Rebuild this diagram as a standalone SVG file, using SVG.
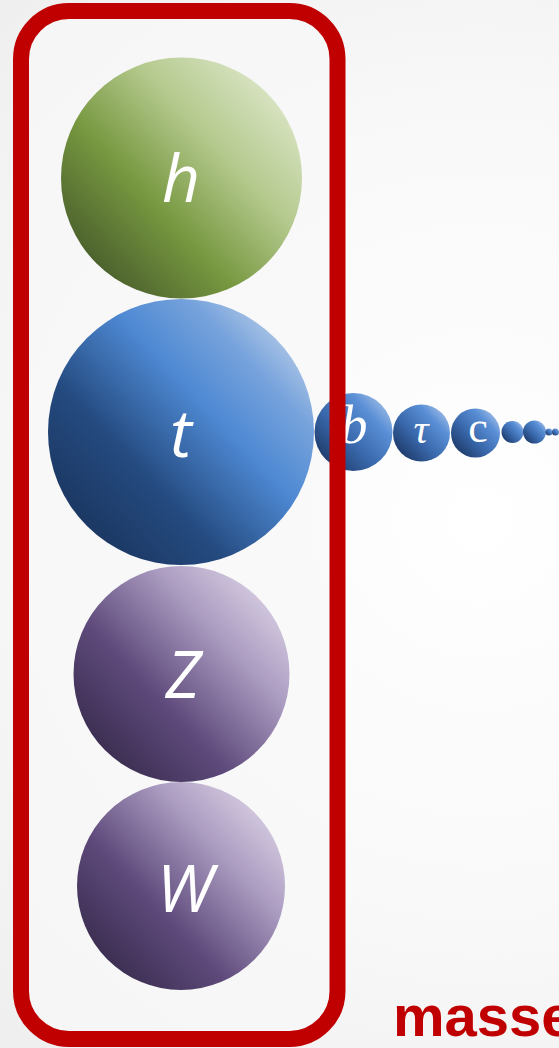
<svg xmlns="http://www.w3.org/2000/svg" width="559" height="1048" viewBox="0 0 559 1048">
  <defs>
    <radialGradient id="bg" cx="480" cy="520" r="700" gradientUnits="userSpaceOnUse">
      <stop offset="0" stop-color="#ffffff"/>
      <stop offset="0.6" stop-color="#f8f8f8"/>
      <stop offset="1" stop-color="#efefef"/>
    </radialGradient>
    <linearGradient id="gGreen" x1="0.1" y1="0.9" x2="0.95" y2="0.1">
      <stop offset="0" stop-color="#45592a"/>
      <stop offset="0.35" stop-color="#779840"/>
      <stop offset="0.65" stop-color="#b4c98d"/>
      <stop offset="1" stop-color="#e1eacf"/>
    </linearGradient>
    <linearGradient id="gBlue" x1="0.1" y1="0.9" x2="0.95" y2="0.1">
      <stop offset="0" stop-color="#1a345d"/>
      <stop offset="0.3" stop-color="#244a7f"/>
      <stop offset="0.6" stop-color="#4e89d3"/>
      <stop offset="0.8" stop-color="#77a3dc"/>
      <stop offset="1" stop-color="#c3d4eb"/>
    </linearGradient>
    <linearGradient id="gBlueS" x1="0.1" y1="0.9" x2="0.95" y2="0.1">
      <stop offset="0" stop-color="#1c3866"/>
      <stop offset="0.4" stop-color="#3a69ad"/>
      <stop offset="0.75" stop-color="#5a8fd6"/>
      <stop offset="1" stop-color="#a8c3e8"/>
    </linearGradient>
    <linearGradient id="gPurple" x1="0.1" y1="0.9" x2="0.95" y2="0.1">
      <stop offset="0" stop-color="#372a4c"/>
      <stop offset="0.35" stop-color="#5e4a7b"/>
      <stop offset="0.7" stop-color="#ab9cc1"/>
      <stop offset="1" stop-color="#ded5e7"/>
    </linearGradient>
    <style>
      .big { font-family: "Open Sans", "Liberation Sans", sans-serif; font-style: italic; font-size: 66px; fill: #ffffff; text-anchor: middle; }
      .small { font-family: "Liberation Serif", "DejaVu Serif", serif; fill: #ffffff; text-anchor: middle; }
      .box { fill: none; stroke: #c00000; stroke-width: 16; }
    </style>
  </defs>

  <rect x="0" y="0" width="559" height="1048" fill="url(#bg)"/>
  <rect x="21" y="11" width="316.5" height="1028" rx="48" fill="#f8f8f8" opacity="0.7"/>

  <g id="node-h">
    <circle cx="181.5" cy="178" r="120.5" fill="url(#gGreen)"/>
    <text class="big" x="181" y="202">h</text>
  </g>
  <g id="node-t">
    <circle cx="181" cy="432" r="133" fill="url(#gBlue)"/>
    <text class="big" x="181" y="457">t</text>
  </g>
  <g id="node-Z">
    <circle cx="181.5" cy="674" r="108" fill="url(#gPurple)"/>
    <text class="big" x="183" y="698">Z</text>
  </g>
  <g id="node-W">
    <circle cx="181" cy="886" r="104" fill="url(#gPurple)"/>
    <text class="big" x="185" y="912">W</text>
  </g>

  <g id="node-b">
    <circle cx="353.5" cy="432" r="39" fill="url(#gBlueS)"/>
    <text class="small" x="354" y="443" font-size="54" font-style="italic">b</text>
  </g>
  <g id="node-tau">
    <circle cx="421.5" cy="433" r="28.5" fill="url(#gBlueS)"/>
    <text class="small" x="421" y="443" font-size="42" font-style="italic">τ</text>
  </g>
  <g id="node-c">
    <circle cx="475.5" cy="433" r="24.5" fill="url(#gBlueS)"/>
    <text class="small" x="478" y="442" font-size="44">c</text>
  </g>
  <g id="node-s1">
    <circle cx="512.5" cy="432" r="11" fill="url(#gBlueS)"/>
  </g>
  <g id="node-s2">
    <circle cx="534.5" cy="432" r="11.5" fill="url(#gBlueS)"/>
  </g>
  <g id="node-s3">
    <circle cx="549" cy="432" r="3.5" fill="url(#gBlueS)"/>
  </g>
  <g id="node-s4">
    <circle cx="555.5" cy="432" r="3.5" fill="url(#gBlueS)"/>
  </g>

  <g id="frame">
    <rect class="box" x="21" y="11" width="316.5" height="1028" rx="48"/>
  </g>

  <g id="label-masse">
    <text x="393" y="1036" font-family="Liberation Sans, Arial, sans-serif" font-weight="bold" font-size="58" fill="#c00000">masse</text>
  </g>
</svg>
